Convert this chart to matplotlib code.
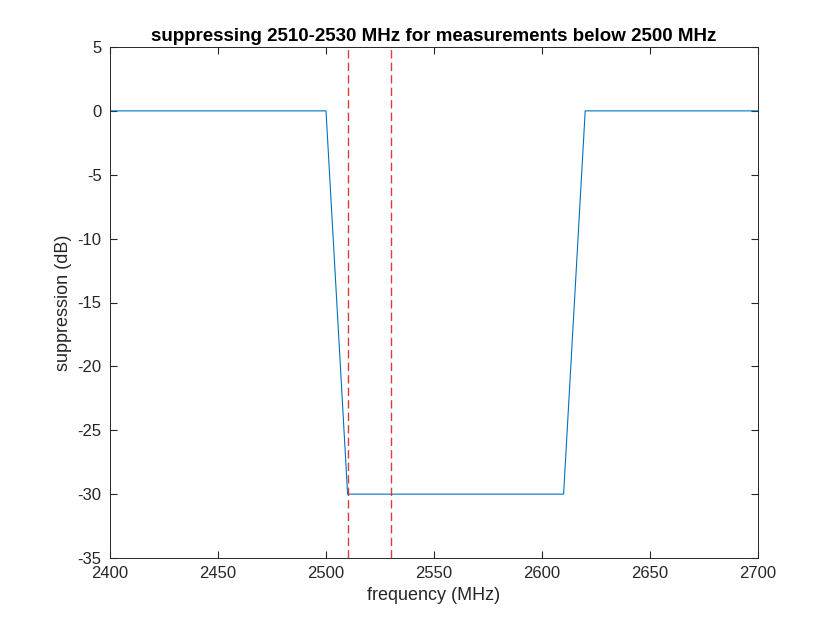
import matplotlib
matplotlib.use("Agg")
import matplotlib.pyplot as plt

freq = [2400, 2500, 2510, 2610, 2620, 2700]
supp = [0, 0, -30, -30, 0, 0]
band_edges = [2510, 2530]
xticks = [2400, 2450, 2500, 2550, 2600, 2650, 2700]
yticks = [-35, -30, -25, -20, -15, -10, -5, 0, 5]

plt.rcParams['font.family'] = ['Liberation Sans', 'DejaVu Sans']
fig = plt.figure(figsize=(8.38, 6.28), dpi=100)
ax = fig.add_axes([110/838, 70/628, 648/838, 511/628])
ax.plot(freq, supp, color='#0072BD', lw=0.8)
for b in band_edges:
    ax.axvline(b, color='#D62728', ls=(0, (6, 3)), lw=1.0, alpha=0.9)
ax.set_xlim(2400, 2700)
ax.set_ylim(-35, 5)
ax.set_xticks(xticks)
ax.set_yticks(yticks)
ax.set_yticklabels([str(v) for v in yticks])
ax.tick_params(direction='in', labelsize=12, colors='#262626', length=5, top=True, right=True, labeltop=False, labelright=False)
ax.tick_params(axis='x', pad=6)
ax.tick_params(axis='y', pad=6)
for s in ax.spines.values():
    s.set_color('#262626'); s.set_linewidth(0.7)
ax.set_xlabel('frequency (MHz)', fontsize=13, color='#262626')
ax.set_ylabel('suppression (dB)', fontsize=13, color='#262626')
ax.set_title('suppressing 2510-2530 MHz for measurements below 2500 MHz', fontsize=13.5, fontweight='bold', pad=4)
fig.savefig('out.png', dpi=100)
